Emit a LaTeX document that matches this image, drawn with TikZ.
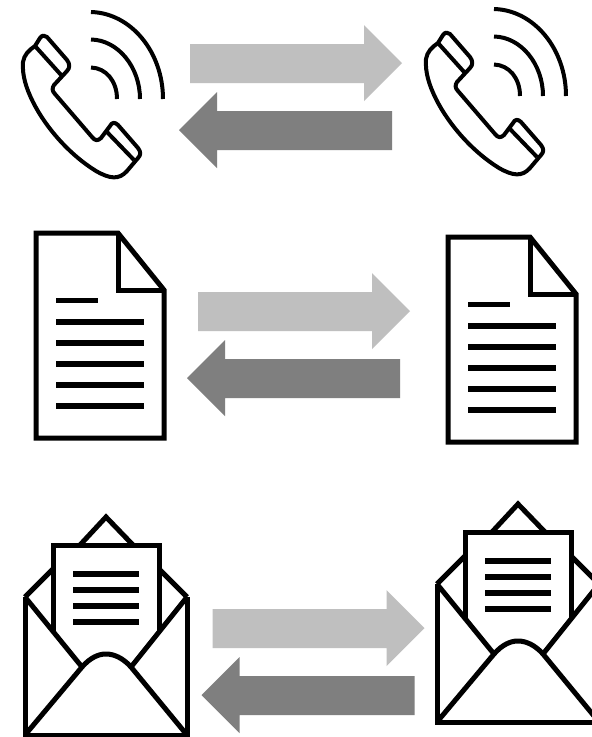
\documentclass[tikz,border=0pt]{standalone}
\definecolor{lightarrow}{HTML}{BFBFBF}
\definecolor{darkarrow}{HTML}{7F7F7F}
\tikzset{
  icon/.style={draw=black,line width=5pt,line join=miter},
  thin icon/.style={draw=black,line width=4pt,line join=round,line cap=butt},
  textline/.style={draw=black,line width=5.5pt},
  phone/.pic={
    \draw[thin icon] (35,46) -- (40,38) .. controls (42,35) and (45,35) .. (47,37)
      -- (67,60) .. controls (70,64) and (70,68) .. (67,71)
      -- (54,85) .. controls (52,88) and (52,91) .. (55,94)
      -- (92,137) .. controls (95,141) and (98,141) .. (101,138)
      -- (110,126) .. controls (112,122) and (115,122) .. (118,125)
      -- (138,148) .. controls (141,152) and (141,155) .. (138,158)
      -- (127,171) .. controls (119,180) and (110,179) .. (96,171)
      .. controls (70,155) and (46,128) .. (33,102)
      .. controls (26,88) and (22,75) .. (23,62)
      .. controls (24,55) and (29,50) .. (35,46) -- cycle;
    \draw[thin icon] (35,46) -- (62,76);
    \draw[thin icon] (107,132) -- (134,160);
    \draw[thin icon] (91,67.5) .. controls (106,68) and (117,81) .. (117,99);
    \draw[thin icon] (91,39.5) .. controls (118,40) and (140,67) .. (140,99);
    \draw[thin icon] (91,12) .. controls (131,13) and (163,52) .. (163,99);
  },
  document/.pic={
    \draw[icon] (36,233) -- (118,233) -- (164,290) -- (164,438) -- (36,438) -- cycle;
    \draw[icon] (118,233) -- (118,290) -- (164,290);
    \draw[textline] (56,300.5) -- (98,300.5);
    \foreach \yy in {322,343,364,385,406} \draw[textline] (56,\yy) -- (144,\yy);
  },
  envelope/.pic={
    \draw[icon] (25,597) -- (25,735) -- (187,735) -- (187,597);
    \draw[icon] (25,597) -- (53,569);
    \draw[icon] (187,597) -- (159,569);
    \draw[icon] (80,545) -- (106,517) -- (133,545);
    \draw[icon] (53,631) -- (53,545) -- (159,545) -- (159,631);
    \draw[icon] (25,597) -- (82,667);
    \draw[icon] (187,597) -- (131,667);
    \draw[icon] (25,735) -- (82,667) .. controls (90,658) and (98,654) .. (106,654)
      .. controls (114,654) and (123,658) .. (131,667) -- (187,735);
    \foreach \yy in {574,590,606,622} \draw[textline] (73,\yy) -- (139,\yy);
  },
  arrowpair/.pic={
    \fill[lightarrow] (190,44) -- (364,44) -- (364,25) -- (402,63) -- (364,101) -- (364,83) -- (190,83) -- cycle;
    \fill[darkarrow] (392,111) -- (217,111) -- (217,92) -- (179,130) -- (217,168) -- (217,150) -- (392,150) -- cycle;
  }
}
\begin{document}
\begin{tikzpicture}[x=1pt,y=-1pt]
\useasboundingbox (0,0) rectangle (592,737);
\clip (0,0) rectangle (592,737);
\fill[white] (0,0) rectangle (592,737);
\pic at (0,0) {phone};
\pic at (403,-3) {phone};
\pic at (0,0) {arrowpair};
\pic at (8,248) {arrowpair};
\pic at (22.5,565) {arrowpair};
\pic at (0,0) {document};
\pic at (412,4) {document};
\pic at (0,0) {envelope};
\pic at (412,-13) {envelope};
\end{tikzpicture}
\end{document}
